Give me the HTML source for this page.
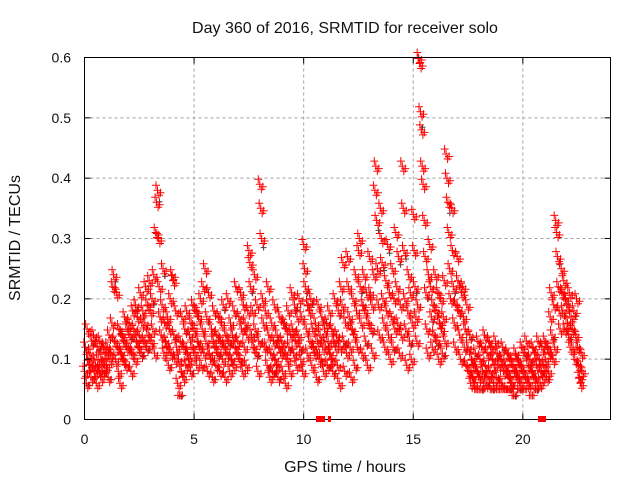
<!DOCTYPE html>
<html><head><meta charset="utf-8"><style>
body{margin:0;background:#fff}
svg{display:block;font-family:"Liberation Sans",sans-serif}
</style></head><body>
<svg id="chart" width="640" height="480" viewBox="0 0 640 480">
<rect x="0" y="0" width="640" height="480" fill="#fff"/>
<text x="345" y="33" font-size="16" text-anchor="middle" fill="#111">Day 360 of 2016, SRMTID for receiver solo</text>
<g id="grid"></g>
<g id="marks"></g>
<rect x="84.5" y="57.5" width="526" height="362" fill="none" stroke="#000" stroke-width="1"/>
<g id="ticks"></g>
<rect x="316" y="416" width="9" height="6" fill="#f00"/>
<rect x="328" y="416" width="3" height="6" fill="#f00"/>
<rect x="538" y="416" width="8" height="6" fill="#f00"/>
<text x="345" y="472" font-size="16" text-anchor="middle" fill="#111">GPS time / hours</text>
<text x="0" y="0" font-size="16" text-anchor="middle" fill="#111" transform="translate(20,238) rotate(-90)">SRMTID / TECUs</text>
</svg>
<script>
const xTicks=[0,5,10,15,20];
const yTicks=[0,0.1,0.2,0.3,0.4,0.5,0.6];
const yTickLabels=["0","0.1","0.2","0.3","0.4","0.5","0.6"];
const binStarts=[];for(let i=0;i<91;i++)binStarts.push(i*0.25);
const binValues=[
[.08,.12,.06,.15,.10,.09],[.11,.07,.13,.09,.14,.08],[.09,.06,.12,.10,.08,.13],[.07,.10,.08,.12,.09,.11],
[.09,.12,.07,.14,.10,.11],[.16,.22,.24,.13,.10,.21],[.12,.08,.15,.06,.11,.14],[.10,.13,.17,.09,.12,.15],
[.12,.16,.14,.08,.11,.18],[.15,.10,.19,.13,.17,.12],[.14,.21,.11,.16,.18,.13],[.16,.22,.12,.19,.14,.23],
[.18,.13,.20,.15,.24,.11],[.31,.36,.38,.30,.22,.17],[.14,.19,.25,.11,.16,.13],[.12,.17,.09,.15,.20,.11],
[.24,.23,.14,.10,.18,.12],[.06,.10,.04,.13,.08,.17],[.07,.12,.15,.09,.18,.11],[.10,.14,.08,.16,.12,.19],
[.15,.11,.18,.09,.13,.17],[.12,.20,.09,.15,.22,.11],[.25,.13,.17,.08,.21,.11],[.10,.15,.07,.13,.18,.12],
[.09,.14,.11,.17,.08,.13],[.16,.10,.19,.12,.07,.14],[.11,.20,.13,.08,.16,.10],[.14,.09,.18,.12,.22,.11],
[.13,.17,.10,.21,.15,.08],[.19,.12,.16,.09,.14,.18],[.28,.26,.22,.14,.18,.12],[.24,.15,.11,.19,.08,.13],
[.39,.35,.30,.20,.16,.12],[.18,.12,.09,.22,.14,.07],[.11,.16,.08,.13,.19,.10],[.09,.14,.07,.12,.17,.11],
[.13,.08,.16,.11,.06,.15],[.10,.18,.12,.08,.14,.21],[.15,.11,.19,.13,.09,.17],[.14,.20,.12,.10,.17,.08],
[.29,.25,.22,.15,.11,.19],[.18,.13,.20,.09,.15,.12],[.11,.16,.07,.13,.19,.10],[.14,.10,.17,.12,.08,.15],
[.12,.16,.09,.13,.18,.11],[.10,.15,.08,.13,.20,.12],[.14,.09,.18,.06,.12,.22],[.19,.26,.13,.08,.16,.11],
[.27,.22,.17,.12,.07,.15],[.20,.14,.09,.24,.18,.12],[.28,.30,.22,.16,.11,.19],[.24,.18,.13,.21,.09,.16],
[.27,.21,.15,.19,.11,.24],[.38,.42,.33,.25,.19,.14],[.35,.30,.26,.20,.16,.12],[.23,.18,.29,.14,.21,.10],
[.17,.25,.12,.20,.15,.31],[.22,.16,.27,.11,.19,.14],[.42,.35,.28,.20,.15,.09],[.18,.24,.13,.21,.10,.16],
[.34,.28,.22,.17,.13,.19],[.60,.59,.51,.48,.42,.39],[.33,.27,.21,.15,.11,.24],[.29,.22,.17,.12,.19,.14],
[.24,.18,.13,.21,.10,.16],[.20,.15,.11,.17,.23,.13],[.44,.40,.36,.31,.25,.20],[.35,.28,.22,.16,.12,.19],
[.27,.23,.18,.14,.10,.21],[.22,.17,.12,.15,.09,.19],[.12,.08,.14,.06,.10,.07],[.09,.06,.11,.05,.08,.13],
[.07,.10,.05,.12,.08,.06],[.14,.09,.06,.11,.07,.13],[.08,.12,.05,.10,.06,.09],[.13,.07,.11,.05,.09,.06],
[.10,.06,.12,.08,.05,.09],[.08,.11,.05,.07,.10,.06],[.06,.09,.04,.08,.11,.07],[.10,.07,.05,.09,.06,.12],
[.08,.05,.11,.07,.13,.06],[.09,.06,.10,.04,.08,.12],[.07,.11,.05,.09,.06,.13],[.10,.06,.08,.12,.07,.09],
[.13,.10,.07,.12,.08,.11],[.17,.21,.14,.10,.19,.12],[.33,.31,.27,.22,.18,.15],[.25,.21,.18,.23,.15,.20],
[.19,.16,.14,.21,.12,.17],[.15,.12,.18,.10,.14,.20],[.12,.09,.07,.06,.11,.08]
];
const X0=84.5,X1=610.5,Y0=419.5,Y1=57.5,XMAX=24,YMAX=0.6;
function xs(t){return X0+(X1-X0)*t/XMAX;}
function ys(v){return Y0-(Y0-Y1)*v/YMAX;}
const NS="http://www.w3.org/2000/svg";
const grid=document.getElementById('grid'),ticks=document.getElementById('ticks'),marks=document.getElementById('marks');
function mk(tag,attrs,parent){const e=document.createElementNS(NS,tag);for(const k in attrs)e.setAttribute(k,attrs[k]);parent.appendChild(e);return e;}
xTicks.forEach(t=>{const x=xs(t);
 if(t>0){const g=mk('line',{x1:x,y1:Y0,x2:x,y2:Y1,stroke:'#a0a0a0','stroke-dasharray':'3,3'},grid);
 
 }
 mk('line',{x1:x,y1:Y0,x2:x,y2:Y0-6,stroke:'#000'},ticks);mk('line',{x1:x,y1:Y1,x2:x,y2:Y1+6,stroke:'#000'},ticks);
 const l=mk('text',{x:x,y:444,'font-size':14,'text-anchor':'middle',fill:'#111'},ticks);l.textContent=t;
 
 });
yTicks.forEach((v,i)=>{const y=ys(v);
 if(v>0&&v<YMAX){const g=mk('line',{x1:X0,y1:y,x2:X1,y2:y,stroke:'#a0a0a0','stroke-dasharray':'3,3'},grid);
 
 }
 mk('line',{x1:X0,y1:y,x2:X0+6,y2:y,stroke:'#000'},ticks);mk('line',{x1:X1,y1:y,x2:X1-6,y2:y,stroke:'#000'},ticks);
 const l=mk('text',{x:71,y:y+5,'font-size':14,'text-anchor':'end',fill:'#111'},ticks);l.textContent=yTickLabels[i];
 
 });
const clusterDx=[0,1.5,-1.5,3];
const clusterDy=[0,5,-5,2.5];
let d='',dg='';
function cross(x,y,r){return `M${(x-r).toFixed(1)},${y.toFixed(1)}h${2*r}M${x.toFixed(1)},${(y-r).toFixed(1)}v${2*r}`;}
binValues.forEach((vals,i)=>{vals.forEach((v,j)=>{
 const x=xs(binStarts[i]+j*0.04),y=ys(v);
 for(let k=0;k<clusterDx.length;k++){
  const yy=(k===0||v>0.05)?y+clusterDy[k]:y;
  d+=cross(x+clusterDx[k],Math.min(yy,Y0-2),4);
 }
 if(j===2){dg+=cross(x+2,ys(v*0.95),3);}
});});
const pg=mk('path',{d:dg,stroke:'#444',fill:'none','stroke-width':1},marks);


const p=mk('path',{d:d,stroke:'#f00',fill:'none','stroke-width':1},marks);


</script>
</body></html>
